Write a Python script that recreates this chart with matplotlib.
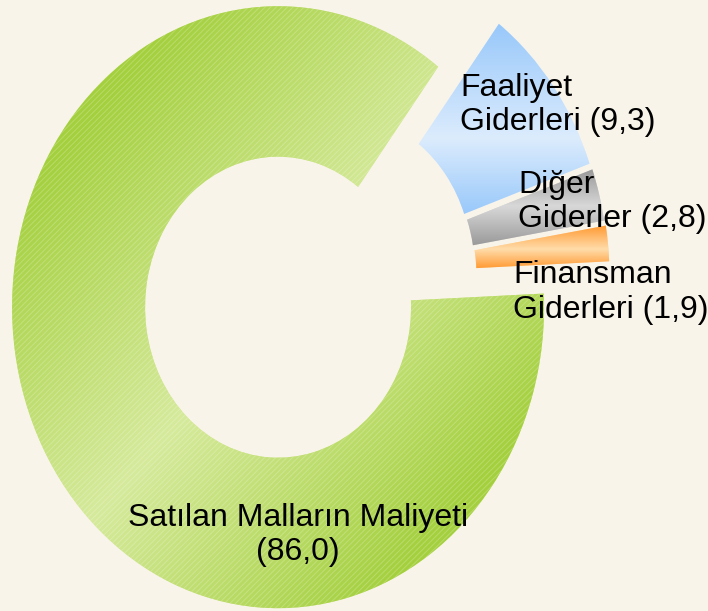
import numpy as np
import matplotlib
matplotlib.use("Agg")
import matplotlib.pyplot as plt
from matplotlib.colors import to_rgb
from matplotlib.patches import Wedge

plt.rcParams['font.family'] = ['Liberation Sans', 'DejaVu Sans']
plt.rcParams['hatch.linewidth'] = 0.7

# ---------------- data ----------------
labels = ['Satılan Malların Maliyeti\n(86,0)', 'Faaliyet\nGiderleri (9,3)',
          'Diğer\nGiderler (2,8)', 'Finansman\nGiderleri (1,9)']
values = [86.0, 9.3, 2.8, 1.9]

dark_cols = ['#a4d03e', '#98c8fa', '#999999', '#ff9a33']
light_cols = ['#d6ea9c', '#dcecfd', '#d8d8d8', '#ffdcaa']
light_pos = [None, 0.60, 0.48, 0.55]   # where the light band sits (from top)
# small extra nudge of the exploded slices (data units)
nudge = [(0, 0), (0, 0), (-0.011, 0.027), (-0.008, 0.030)]

bg = '#f9f4e9'

fig = plt.figure(figsize=(7.08, 6.11), dpi=100, facecolor=bg)
ax = fig.add_axes([0, 0, 1, 1])
ax.set_facecolor(bg)

wedges, _ = ax.pie(values, startangle=2.6, counterclock=False,
                   explode=[0.135] * len(values), radius=1.0,
                   wedgeprops=dict(width=0.5, linewidth=0))
for w, (dx, dy) in zip(wedges, nudge):
    cx, cy = w.center
    w.set_center((cx + dx, cy + dy))

xlim = (-1.1648, 1.4969)
ylim = (-1.0723, 0.9576)

# gradient fill, clipped to each wedge
nx, ny = 500, 450
gx = np.linspace(xlim[0], xlim[1], nx)
gy = np.linspace(ylim[0], ylim[1], ny)
X, Y = np.meshgrid(gx, gy)

for i, w in enumerate(wedges):
    bb = w.get_path().get_extents()
    if light_pos[i] is None:
        cx, cy = w.center
        t = np.abs((X - cx) - (Y - cy)) / (np.sqrt(2) * 0.95)
    else:
        ym = bb.y1 - light_pos[i] * (bb.y1 - bb.y0)
        t = np.where(Y > ym, (Y - ym) / (bb.y1 - ym), (ym - Y) / (ym - bb.y0))
    t = np.clip(t, 0, 1)[..., None]
    d = np.array(to_rgb(dark_cols[i]))
    l = np.array(to_rgb(light_cols[i]))
    img = l + (d - l) * t
    w.set_facecolor(light_cols[i])
    im = ax.imshow(img, origin='lower', extent=(xlim[0], xlim[1], ylim[0], ylim[1]),
                   aspect='auto', zorder=2, interpolation='bilinear')
    im.set_clip_path(w)

# faint diagonal texture on the big slice
g = wedges[0]
tex = Wedge(g.center, g.r, g.theta1, g.theta2, width=g.width,
            facecolor='none', edgecolor=(1, 1, 1, 0.22), hatch='//////',
            linewidth=0, zorder=3)
ax.add_patch(tex)

ax.set_aspect('auto')
ax.set_xlim(*xlim)
ax.set_ylim(*ylim)
ax.axis('off')

# va='baseline' -> baseline of the last line
fs = 23
fig.text(0.421, 0.083, labels[0], ha='center', va='baseline',
         multialignment='center', fontsize=fs, color='black')
fig.text(0.650, 0.787, labels[1], ha='left', va='baseline', fontsize=fs)
fig.text(0.732, 0.628, labels[2], ha='left', va='baseline', fontsize=fs)
fig.text(0.725, 0.480, labels[3], ha='left', va='baseline', fontsize=fs)

fig.savefig('out.png', dpi=100, facecolor=bg)
